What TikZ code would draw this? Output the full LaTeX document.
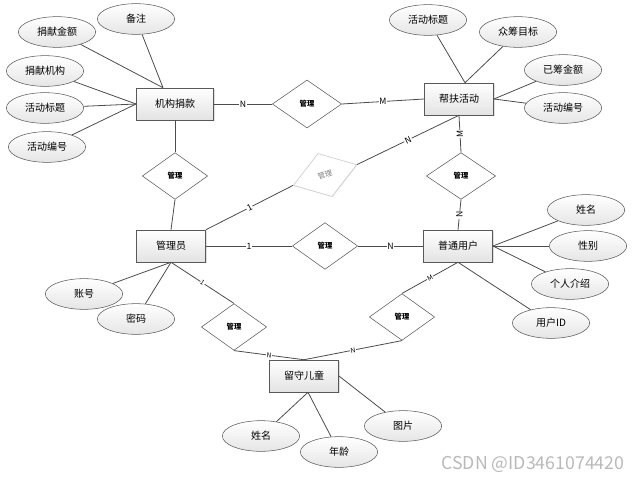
\documentclass[tikz,border=0pt]{standalone}
\usepackage{fontspec}
\setmainfont{Noto Sans CJK SC}
\usetikzlibrary{shapes.geometric, shadows}

\begin{document}
\begin{tikzpicture}[x=0.75pt, y=-0.75pt,
    ent/.style={draw=gray!70!black, top color=white, bottom color=gray!22, minimum width=52pt, minimum height=24pt,
      drop shadow={shadow xshift=0.8pt, shadow yshift=-0.8pt, opacity=0.25}, font=\fontsize{7.5}{9}\selectfont},
    attr/.style={ellipse, draw=gray!70!black, top color=white, bottom color=gray!20, minimum width=58pt, minimum height=23pt,
      inner sep=0pt, font=\fontsize{7.5}{9}\selectfont},
    rel/.style={diamond, draw=gray!70!black, fill=white, minimum width=49pt, minimum height=35pt, inner sep=0pt,
      font=\fontsize{5.5}{6}\selectfont\bfseries},
    lbl/.style={fill=white, inner sep=0.6pt, font=\fontsize{6.5}{7}\selectfont},
    small/.style={fill=white, inner sep=0.4pt, font=\fontsize{5}{5}\selectfont},
    line/.style={draw=gray!60!black, line width=0.6pt}]
  \useasboundingbox (0,0) rectangle (642,481);

  % entities
  \node [ent, minimum width=58pt] (jgjk) at (175,104) {机构捐款};
  \node [ent] (bfhd) at (459,99) {帮扶活动};
  \node [ent] (gly) at (171,246) {管理员};
  \node [ent] (ptyh) at (458,246) {普通用户};
  \node [ent] (lset) at (304,376) {留守儿童};

  % relations
  \node [rel, minimum width=52pt, minimum height=36pt] (r1) at (307,104) {管理};
  \node [rel] (r2) at (175,176) {管理};
  \node [rel, draw=gray!45, text=gray, font=\fontsize{5.5}{6}\selectfont, rotate=18, minimum width=50pt, minimum height=34pt,
    drop shadow={shadow xshift=0.6pt, shadow yshift=-0.6pt, opacity=0.15}] (r3) at (325,175) {管理};
  \node [rel, minimum width=52pt] (r4) at (461,176) {管理};
  \node [rel] (r5) at (325,246) {管理};
  \node [rel] (r6) at (234,327) {管理};
  \node [rel] (r7) at (402,317) {管理};

  % attributes
  \node [attr] (bz) at (136,19) {备注};
  \node [attr] (jxje) at (57,32) {捐献金额};
  \node [attr] (jxjg) at (45,71) {捐献机构};
  \node [attr] (hdbt) at (45,108) {活动标题};
  \node [attr] (hdbh) at (47,147) {活动编号};
  \node [attr] (bfbt) at (428,20) {活动标题};
  \node [attr] (zcmb) at (518,32) {众筹目标};
  \node [attr] (ycje) at (563,70) {已筹金额};
  \node [attr] (bfbh) at (563,108) {活动编号};
  \node [attr] (yhxm) at (586,210) {姓名};
  \node [attr] (xb) at (588,246) {性别};
  \node [attr] (grjs) at (570,284) {个人介绍};
  \node [attr] (yhid) at (551,323) {用户ID};
  \node [attr] (zh) at (84,294) {账号};
  \node [attr] (mm) at (136,319) {密码};
  \node [attr] (etxm) at (261,436) {姓名};
  \node [attr] (nl) at (339,452) {年龄};
  \node [attr] (tp) at (403,426) {图片};

  % attribute lines
  \draw [line] (bz) -- ([xshift=-9pt]jgjk.north);
  \draw [line] (jxje) -- ([xshift=-9pt]jgjk.north);
  \draw [line] (jxjg) -- (jgjk.west);
  \draw [line] (hdbt) -- (jgjk.west);
  \draw [line] (hdbh) -- (jgjk.west);
  \draw [line] (bfbt) -- ([xshift=4.5pt]bfhd.north);
  \draw [line] (zcmb) -- ([xshift=4.5pt]bfhd.north);
  \draw [line] (ycje) -- (bfhd.east);
  \draw [line] (bfbh) -- (bfhd.east);
  \draw [line] (yhxm) -- (ptyh.east);
  \draw [line] (xb) -- (ptyh.east);
  \draw [line] (grjs) -- (ptyh.east);
  \draw [line] (yhid) -- (ptyh.south);
  \draw [line] (zh) -- (gly.south);
  \draw [line] (mm) -- (gly.south);
  \draw [line] (etxm) -- ([xshift=3pt]lset.south);
  \draw [line] (nl) -- ([xshift=3pt]lset.south);
  \draw [line] (tp) -- (lset.east);

  % relation lines
  \draw [line] (jgjk.east) -- (r1.west) node [lbl, pos=0.5] {N};
  \draw [line] (r1.east) -- (bfhd.west) node [lbl, pos=0.5] {M};
  \draw [line] (jgjk.south) -- (r2.north);
  \draw [line] (r2.south) -- (gly.north);
  \draw [line] (gly.north east) -- (r3.west) node [lbl, pos=0.5, sloped] {1};
  \draw [line] (r3.east) -- (bfhd.south) node [lbl, pos=0.5, sloped] {N};
  \draw [line] (bfhd.south) -- (r4.north) node [lbl, pos=0.5, rotate=90] {M};
  \draw [line] (r4.south) -- (ptyh.north) node [lbl, pos=0.5, rotate=90] {N};
  \draw [line] (gly.east) -- (r5.west) node [lbl, pos=0.5] {1};
  \draw [line] (r5.east) -- (ptyh.west) node [lbl, pos=0.5] {N};
  \draw [line] (gly.south) -- (r6.north) node [small, pos=0.5, sloped] {1};
  \draw [line] (r6.south) -- (lset.north) node [small, pos=0.5, sloped] {N};
  \draw [line] (ptyh.south) -- (r7.north) node [small, pos=0.5, sloped] {M};
  \draw [line] (r7.south) -- (lset.north) node [small, pos=0.5, sloped] {N};

  \node [text=gray!55, font=\fontsize{13.3}{15}\selectfont] (wm) at (533,464) {CSDN @ID3461074420};
\end{tikzpicture}
\end{document}
